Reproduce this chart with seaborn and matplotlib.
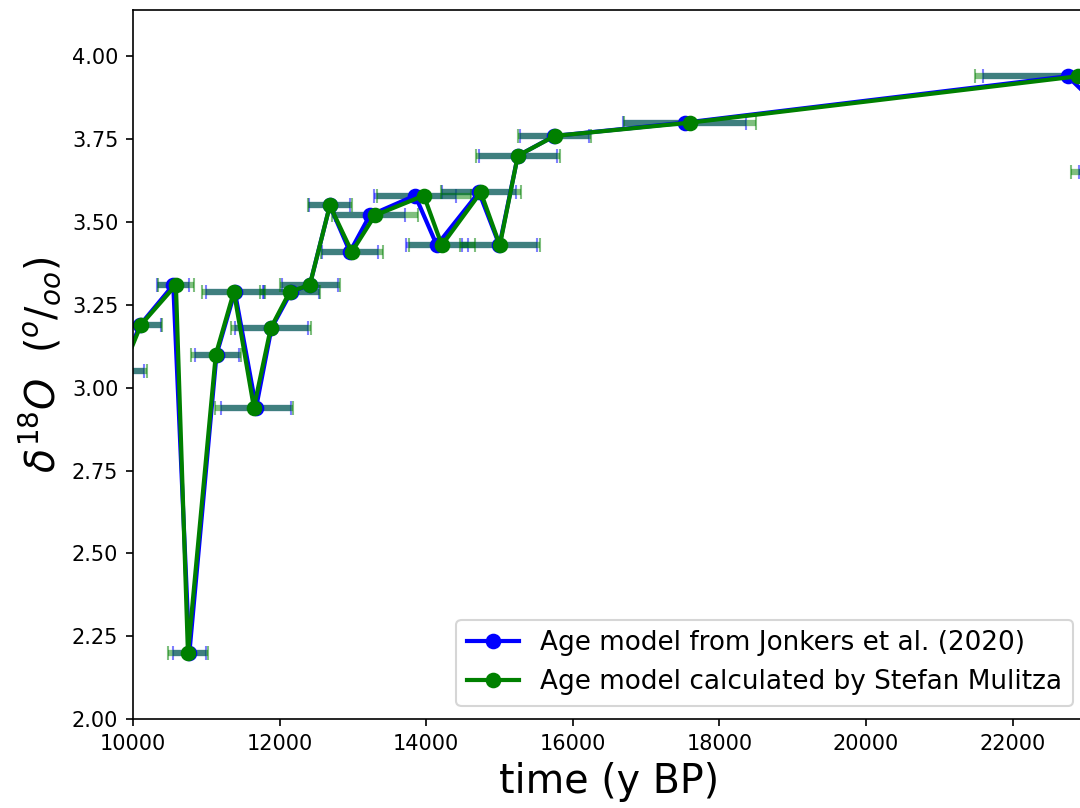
import numpy as np
import pandas as pd
import matplotlib
matplotlib.use('Agg')
import matplotlib.pyplot as plt
import seaborn as sns

# d18O values (same samples, two age models)
d18o = [3.05, 3.19, 3.31, 2.20, 3.10, 3.29, 2.94, 3.18, 3.29, 3.31, 3.55,
        3.41, 3.52, 3.58, 3.43, 3.59, 3.43, 3.70, 3.76, 3.80, 3.94, 3.65]

# Jonkers et al. (2020) ages and errors
age_jonkers = [9830, 10100, 10550, 10770, 11140, 11390, 11680, 11890, 12160,
               12413, 12686, 12960, 13230, 13850, 14145, 14720, 15000, 15250,
               15750, 17527, 22750, 24100]
err_jonkers = [320, 280, 220, 230, 300, 400, 480, 500, 380, 380, 280,
               380, 480, 560, 420, 500, 510, 530, 470, 840, 1160, 1200]

# Mulitza ages and errors
age_mulitza = [9850, 10110, 10586, 10750, 11130, 11377, 11650, 11880, 12140,
               12413, 12686, 12986, 13300, 13968, 14214, 14745, 15005, 15250,
               15755, 17595, 22887, 24200]
err_mulitza = [340, 290, 250, 270, 340, 430, 530, 545, 410, 410, 300,
               420, 590, 640, 450, 545, 545, 570, 500, 900, 1400, 1400]

df_j = pd.DataFrame({'age': age_jonkers, 'd18O': d18o, 'err': err_jonkers})
df_m = pd.DataFrame({'age': age_mulitza, 'd18O': d18o, 'err': err_mulitza})

fig = plt.figure(figsize=(7.2, 5.3867), dpi=150)
ax = fig.add_axes([0.1231, 0.1101, 0.8824, 0.8775])

ax.errorbar(df_j['age'], df_j['d18O'], xerr=df_j['err'], fmt='none',
            ecolor='blue', elinewidth=3, capsize=3.5, capthick=1, alpha=0.5)
ax.errorbar(df_m['age'], df_m['d18O'], xerr=df_m['err'], fmt='none',
            ecolor='green', elinewidth=3, capsize=3.5, capthick=1, alpha=0.5)

sns.lineplot(data=df_j, x='age', y='d18O', sort=False, color='blue', marker='o',
             markersize=7.5, markeredgewidth=0, linewidth=2, ax=ax,
             label='Age model from Jonkers et al. (2020)')
sns.lineplot(data=df_m, x='age', y='d18O', sort=False, color='green', marker='o',
             markersize=7.5, markeredgewidth=0, linewidth=2, ax=ax,
             label='Age model calculated by Stefan Mulitza')

ax.set_xlim(10000, 23000)
ax.set_ylim(2.0, 4.14)
ax.set_yticks(np.arange(2.0, 4.01, 0.25))
ax.set_xlabel('time (y BP)', fontsize=19)
ax.set_ylabel(r'$\delta^{18}O$  $(^{o}/_{oo})$', fontsize=19)
ax.legend(loc='lower right', fontsize=12.6)

fig.savefig('out.png', dpi=150)
